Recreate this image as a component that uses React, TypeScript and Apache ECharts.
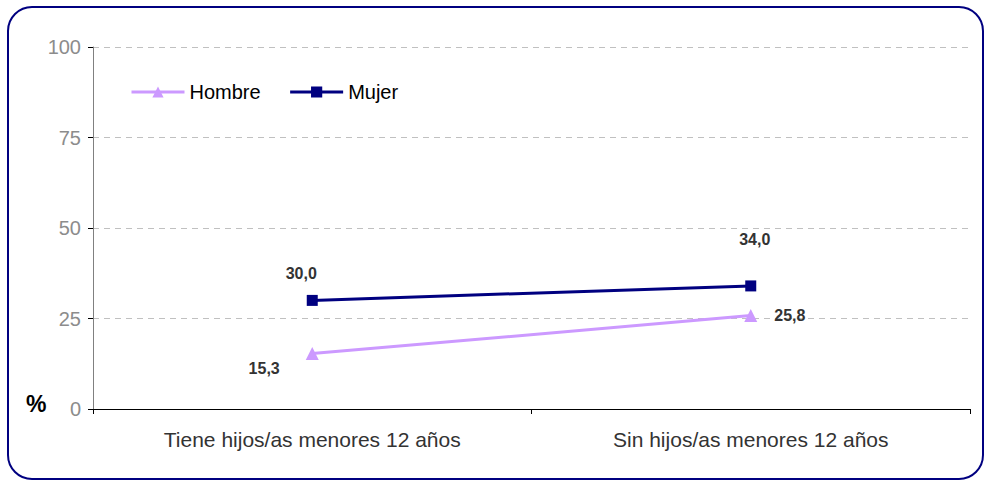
import React, { useEffect, useRef } from "react";
import * as echarts from "echarts";

const categories = ["Tiene hijos/as menores 12 años", "Sin hijos/as menores 12 años"];
const hombre = [15.3, 25.8];
const mujer = [30.0, 34.0];
const yTicks = [0, 25, 50, 75, 100];

const fmt = (v: number) => v.toFixed(1).replace(".", ",");
const FONT = "Arial, Liberation Sans, sans-serif";

export default function App() {
  const ref = useRef<HTMLDivElement>(null);
  useEffect(() => {
    if (!ref.current) return;
    const chart = echarts.init(ref.current, undefined, { renderer: "svg" });
    const labelStyle = { fontFamily: FONT, fontSize: 16, fontWeight: "bold", color: "#333333" };
    chart.setOption({
      animation: false,
      backgroundColor: "#ffffff",
      textStyle: { fontFamily: FONT },
      graphic: [
        {
          type: "rect",
          shape: { x: 8, y: 7, width: 975, height: 472, r: 24 },
          style: { fill: "none", stroke: "#000080", lineWidth: 2 },
          z: 0,
        },
        {
          type: "text",
          left: 26,
          top: 392,
          style: { text: "%", font: "bold 23px " + FONT, fill: "#000000" },
        },
      ],
      legend: {
        left: 125,
        top: 77,
        itemWidth: 53,
        itemHeight: 14,
        itemGap: 28,
        lineStyle: { width: 3 },
        textStyle: { fontSize: 20, color: "#000000", fontFamily: FONT },
        data: ["Hombre", "Mujer"],
      },
      grid: { left: 93, right: 15, top: 47, bottom: 71 },
      xAxis: {
        type: "category",
        data: categories,
        boundaryGap: true,
        axisLine: { lineStyle: { color: "#000000", width: 1 } },
        axisTick: { show: true, length: 5, lineStyle: { color: "#000000" } },
        axisLabel: { fontSize: 21, color: "#333333", margin: 20, fontFamily: FONT },
      },
      yAxis: {
        type: "value",
        min: yTicks[0],
        max: yTicks[yTicks.length - 1],
        interval: 25,
        axisLine: { show: true, lineStyle: { color: "#808080" } },
        axisTick: { show: true, length: 5, lineStyle: { color: "#000000" } },
        axisLabel: { fontSize: 20, color: "#8c8c8c", margin: 12, fontFamily: FONT },
        splitLine: { lineStyle: { color: "#c0c0c0", type: [6, 5] } },
      },
      series: [
        {
          name: "Hombre",
          type: "line",
          symbol: "triangle",
          symbolSize: 13,
          lineStyle: { color: "#CC99FF", width: 3 },
          itemStyle: { color: "#CC99FF" },
          data: [
            { value: hombre[0], label: { show: true, position: "left", offset: [-21, 15], formatter: () => fmt(hombre[0]), ...labelStyle } },
            { value: hombre[1], label: { show: true, position: "right", offset: [12, 0], formatter: () => fmt(hombre[1]), ...labelStyle } },
          ],
          z: 3,
        },
        {
          name: "Mujer",
          type: "line",
          symbol: "rect",
          symbolSize: 11,
          lineStyle: { color: "#000080", width: 3 },
          itemStyle: { color: "#000080" },
          data: [
            { value: mujer[0], label: { show: true, position: "top", offset: [-11, -8], formatter: () => fmt(mujer[0]), ...labelStyle } },
            { value: mujer[1], label: { show: true, position: "top", offset: [4, -28], formatter: () => fmt(mujer[1]), ...labelStyle } },
          ],
          z: 4,
        },
      ],
    });
    return () => chart.dispose();
  }, []);
  return (
    <div style={{ position: "fixed", left: 0, top: 0, width: 985, height: 480, background: "#fff" }}>
      <div ref={ref} style={{ width: 985, height: 480 }} />
    </div>
  );
}
